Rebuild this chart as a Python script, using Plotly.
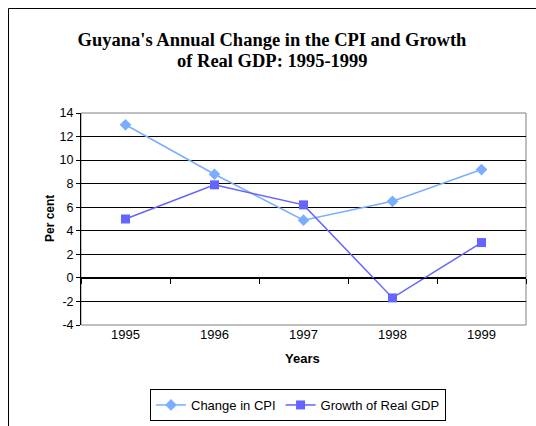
import plotly.graph_objects as go

years = ["1995", "1996", "1997", "1998", "1999"]
cpi_change = [13.0, 8.8, 4.9, 6.5, 9.2]
gdp_growth = [5.0, 7.9, 6.2, -1.7, 3.0]
y_ticks = [-4, -2, 0, 2, 4, 6, 8, 10, 12, 14]
y_tick_labels = ["-4", "-2", "0", "2", "4", "6", "8", "10", "12", "14"]
title_lines = ["Guyana's Annual Change in the CPI and Growth", "of Real GDP: 1995-1999"]

W, H = 536, 426
L, R, T, B = 81, 10, 113, 101
pw, ph = W - L - R, H - T - B

def px_x(p):
    return (p - L) / pw

def px_y(p):
    return (H - B - p) / ph

sans = "Liberation Sans, Arial, sans-serif"
serif = "Liberation Serif, Times New Roman, serif"

fig = go.Figure()
fig.add_trace(go.Scatter(
    x=years, y=cpi_change, name="Change in CPI", mode="lines+markers",
    line=dict(color="#7aaeff", width=1.5),
    marker=dict(symbol="diamond", size=9, color="#7aaeff"),
))
fig.add_trace(go.Scatter(
    x=years, y=gdp_growth, name="Growth of Real GDP", mode="lines+markers",
    line=dict(color="#6464ff", width=1.5),
    marker=dict(symbol="square", size=9, color="#6464ff"),
))
# invisible trace to drive the zero-line category axis
fig.add_trace(go.Scatter(
    x=years, y=cpi_change, xaxis="x2", showlegend=False, hoverinfo="skip",
    mode="markers", marker=dict(opacity=0),
))

ymin, ymax = -4, 14
fig.update_layout(
    width=W, height=H,
    margin=dict(l=L, r=R, t=T, b=B, autoexpand=False),
    paper_bgcolor="white", plot_bgcolor="white",
    font=dict(family=sans, size=12, color="black"),
    showlegend=True,
    legend=dict(
        orientation="h", x=px_x(298), y=px_y(405), xanchor="center", yanchor="middle",
        bordercolor="black", borderwidth=1, font=dict(family=sans, size=13),
        itemwidth=30, tracegroupgap=0,
    ),
    xaxis=dict(
        type="category", categoryorder="array", categoryarray=years,
        range=[-0.5, 4.5], showgrid=False, showline=False, ticks="",
        tickfont=dict(family=sans, size=13), zeroline=False,
    ),
    xaxis2=dict(
        type="category", categoryorder="array", categoryarray=years,
        range=[-0.5, 4.5], overlaying="x", anchor="free",
        position=(0 - ymin) / (ymax - ymin),
        showline=True, linecolor="black", linewidth=1,
        ticks="outside", tickson="boundaries", ticklen=5, tickcolor="black",
        showticklabels=False, showgrid=False, zeroline=False,
    ),
    yaxis=dict(
        range=[ymin, ymax], tickvals=y_ticks, ticktext=y_tick_labels,
        ticks="outside", ticklen=4,
        tickcolor="black", showline=True, linecolor="black", linewidth=1,
        showgrid=True, gridcolor="black", gridwidth=1, zeroline=False,
        tickfont=dict(family=sans, size=12.5),
    ),
    title=dict(
        text="<b>" + title_lines[0] + "</b>",
        font=dict(family=serif, size=18.5, color="black"),
        xref="container", yref="container", x=272 / W, y=1 - 40 / H,
        xanchor="center", yanchor="middle",
    ),
    annotations=[
        dict(text="<b>" + title_lines[1] + "</b>", xref="paper", yref="paper",
             x=px_x(272), y=px_y(61), showarrow=False, xanchor="center", yanchor="middle",
             font=dict(family=serif, size=18.5, color="black")),
        dict(text="<b>Per cent</b>", textangle=-90, xref="paper", yref="paper",
             x=px_x(41), y=px_y(219), showarrow=False,
             font=dict(family=sans, size=12)),
        dict(text="<b>Years</b>", xref="paper", yref="paper",
             x=px_x(302), y=px_y(368), showarrow=False,
             font=dict(family=sans, size=13)),
    ],
    shapes=[
        dict(type="rect", xref="paper", yref="paper", x0=0, x1=1, y0=0, y1=1,
             line=dict(color="#808080", width=1), layer="below"),
        dict(type="rect", xref="paper", yref="paper",
             x0=px_x(8.5), x1=px_x(545), y0=px_y(435), y1=px_y(8.5),
             line=dict(color="black", width=1), layer="below"),
    ],
)

fig.write_html("out.html", config={"displayModeBar": False},
               post_script="document.body.style.margin='0';")
